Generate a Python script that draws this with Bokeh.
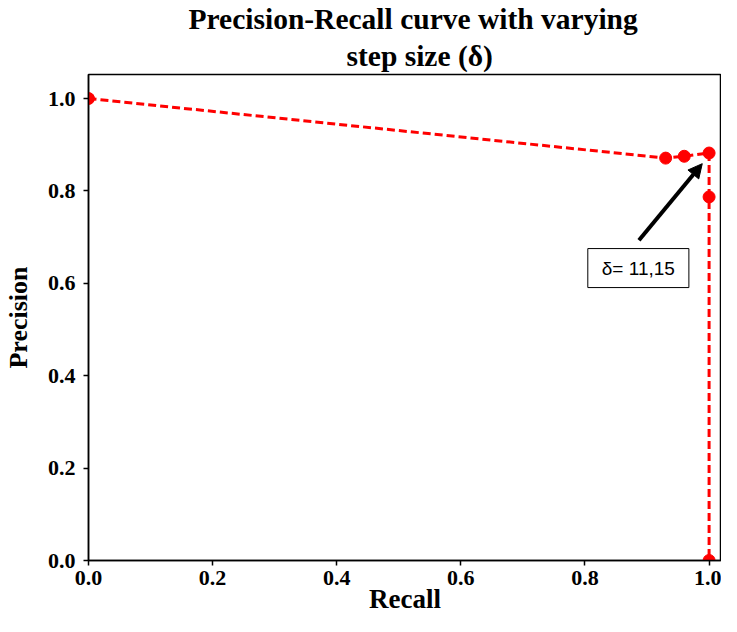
from bokeh.plotting import figure
from bokeh.models import Title, Label, Arrow, NormalHead, FixedTicker, Range1d
from bokeh.embed import file_html
from bokeh.resources import INLINE

# Data
recall = [0.0, 0.930, 0.960, 1.0, 1.0, 1.0]
precision = [1.0, 0.871, 0.875, 0.882, 0.787, 0.0]
tick_values = [0.0, 0.2, 0.4, 0.6, 0.8, 1.0]
title_lines = ["Precision-Recall curve with varying", "step size (\u03b4)"]
title_offsets = [100, 258]
x_label = "Recall"
y_label = "Precision"
annotation_text = "\u03b4= 11,15"
arrow_start = (0.887, 0.693)
arrow_end = (0.989, 0.859)
label_pos = (0.886, 0.633)

SERIF = "Liberation Serif"

p = figure(width=721, height=616, output_backend="svg", toolbar_location=None,
           x_range=Range1d(0, 1.02), y_range=Range1d(0, 1.052),
           min_border_left=80, min_border_right=0, min_border_bottom=56, min_border_top=10)
p.background_fill_color = "white"
p.border_fill_color = "white"
p.outline_line_color = "black"
p.outline_line_width = 1.5
p.xgrid.visible = False
p.ygrid.visible = False

for i, (ln, off) in enumerate(reversed(list(zip(title_lines, title_offsets)))):
    p.add_layout(Title(text=ln, align="left", text_font=SERIF, text_font_size="29.5px",
                       text_font_style="bold", text_color="black",
                       standoff=6 if i == 0 else 0, offset=off,
                       text_line_height=1.0), "above")

for ax in (p.xaxis[0], p.yaxis[0]):
    ax.ticker = FixedTicker(ticks=tick_values)
    ax.minor_tick_line_color = None
    ax.major_tick_out = 5
    ax.major_tick_in = 0
    ax.major_tick_line_width = 1.5
    ax.axis_line_width = 1.5
    ax.major_label_text_font = SERIF
    ax.major_label_text_font_size = "22px"
    ax.major_label_text_font_style = "bold"
    ax.major_label_text_color = "black"
    ax.axis_label_text_font = SERIF
    ax.axis_label_text_font_style = "bold"
    ax.axis_label_text_color = "black"
    ax.major_label_overrides = {v: f"{v:.1f}" for v in tick_values}

p.xaxis.axis_label = x_label
p.yaxis.axis_label = y_label
p.xaxis.axis_label_text_font_size = "27px"
p.yaxis.axis_label_text_font_size = "26px"
p.xaxis.major_label_standoff = 5
p.yaxis.major_label_standoff = 8
p.xaxis.axis_label_standoff = -4
p.yaxis.axis_label_standoff = 12

p.line(recall, precision, line_color="red", line_width=3, line_dash="8 4")
p.scatter(recall, precision, size=12, color="red")

p.add_layout(Arrow(end=NormalHead(size=14, fill_color="black", line_color="black"),
                   x_start=arrow_start[0], y_start=arrow_start[1],
                   x_end=arrow_end[0], y_end=arrow_end[1],
                   line_color="black", line_width=4))

p.add_layout(Label(x=label_pos[0], y=label_pos[1], text=annotation_text,
                   text_align="center", text_baseline="middle",
                   text_font="Liberation Sans", text_font_size="19px", text_color="black",
                   border_line_color="black", border_line_width=1,
                   background_fill_color="white",
                   padding=dict(left=14, right=14, top=9, bottom=9)))

open("out.html", "w").write(file_html(p, INLINE))
